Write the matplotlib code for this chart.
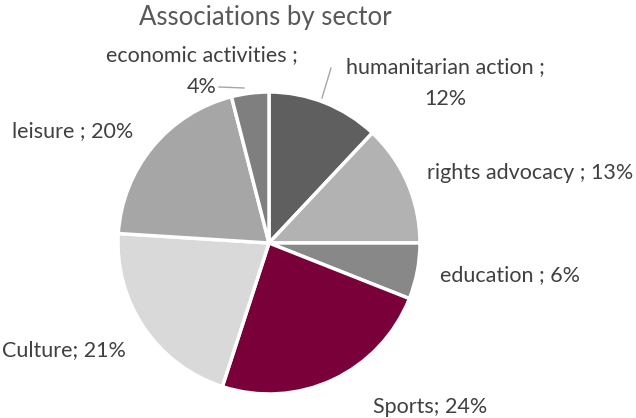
import matplotlib.pyplot as plt

# Share of associations per sector (clockwise from 12 o'clock)
sectors = ['humanitarian action', 'rights advocacy', 'education', 'Sports',
           'Culture', 'leisure', 'economic activities']
shares = [12, 13, 6, 24, 21, 20, 4]
colors = ['#5f5f5f', '#b2b2b2', '#888888', '#7a003a', '#d9d9d9', '#a6a6a6', '#7f7f7f']

W, H = 636, 418
fig = plt.figure(figsize=(W / 100, H / 100), dpi=100)
ax = fig.add_axes([0, 0, 1, 1])

cx, cy, r = 269, H - 243, 151
ax.pie(shares, colors=colors, startangle=90, counterclock=False,
       center=(cx, cy), radius=r, frame=True,
       wedgeprops=dict(edgecolor='white', linewidth=2.5))
ax.set_xlim(0, W)
ax.set_ylim(0, H)
ax.set_aspect('equal')
ax.axis('off')

font = dict(family=['Lato', 'DejaVu Sans'], color='#404040', fontsize=15.5)

ax.text(265, H - 18, 'Associations by sector', ha='center', va='center',
        family=['Lato', 'DejaVu Sans'], color='#595959', fontsize=18.5)

# data labels
ax.text(445, H - 83, 'humanitarian action ;\n12%', ha='center', va='center',
        linespacing=1.8, **font)
ax.text(427, H - 173, 'rights advocacy ; 13%', ha='left', va='center', **font)
ax.text(440, H - 275, 'education ; 6%', ha='left', va='center', **font)
ax.text(430, H - 407, 'Sports; 24%', ha='center', va='center', **font)
ax.text(2, H - 350, 'Culture; 21%', ha='left', va='center', **font)
ax.text(12, H - 131, 'leisure ; 20%', ha='left', va='center', **font)
ax.text(202, H - 71, 'economic activities ;\n4%', ha='center', va='center',
        linespacing=1.8, **font)

# leader lines
ax.plot([331, 322], [H - 68, H - 98], color='#a6a6a6', lw=1)
ax.plot([219, 244], [H - 87, H - 88], color='#a6a6a6', lw=1)

fig.savefig('out.png', dpi=100, facecolor='white')
